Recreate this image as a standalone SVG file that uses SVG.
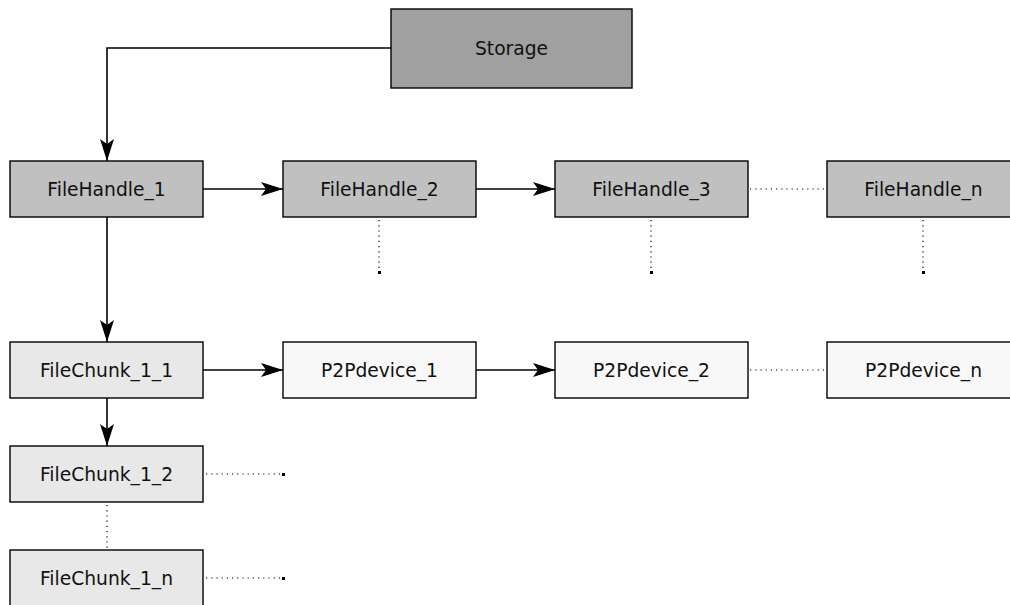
<svg xmlns="http://www.w3.org/2000/svg" width="1010" height="605" viewBox="0 0 1010 605">
<style>
.box{stroke:#000;stroke-width:1.4}
.s{fill:#a0a0a0}
.h{fill:#c0c0c0}
.c{fill:#e8e8e8}
.p{fill:#f8f8f8}
text{font-family:"DejaVu Sans",sans-serif;font-size:18.7px;fill:#111;text-anchor:middle;dominant-baseline:central}
.ln{fill:none;stroke:#000;stroke-width:1.6}
.dt{fill:none;stroke:#000;stroke-width:1.2;stroke-dasharray:1.2 4}
.end{fill:#000}
</style>
<defs>
<marker id="arr" viewBox="0 0 22 14" refX="22" refY="7" markerWidth="22" markerHeight="14" markerUnits="userSpaceOnUse" orient="auto">
<path d="M0,0 L22,7 L0,14 L5,7 Z" fill="#000"/>
</marker>
</defs>
<rect width="1010" height="605" fill="#fff"/>
<g id="connectors">
<path class="ln" d="M391,48 H107 V161" marker-end="url(#arr)"/>
<path class="ln" d="M203,189 H283" marker-end="url(#arr)"/>
<path class="ln" d="M476,189 H555" marker-end="url(#arr)"/>
<path class="dt" d="M750,189 H827"/>
<path class="dt" d="M379,220 V272"/>
<rect class="end" x="378" y="271" width="3" height="3"/>
<path class="dt" d="M651,220 V272"/>
<rect class="end" x="650" y="271" width="3" height="3"/>
<path class="dt" d="M923,220 V272"/>
<rect class="end" x="922" y="271" width="3" height="3"/>
<path class="ln" d="M107,217 V342" marker-end="url(#arr)"/>
<path class="ln" d="M203,370 H283" marker-end="url(#arr)"/>
<path class="ln" d="M476,370 H555" marker-end="url(#arr)"/>
<path class="dt" d="M750,370 H827"/>
<path class="ln" d="M107,398 V446" marker-end="url(#arr)"/>
<path class="dt" d="M206,474 H282"/>
<rect class="end" x="282" y="473" width="3" height="3"/>
<path class="dt" d="M107,505 V550"/>
<path class="dt" d="M206,578 H282"/>
<rect class="end" x="282" y="577" width="3" height="3"/>
</g>
<g id="storage"><rect class="box s" x="391" y="9" width="241" height="79"/><text x="511.5" y="48.5">Storage</text></g>
<g id="fh1"><rect class="box h" x="10" y="161" width="193" height="56"/><text x="106.5" y="189">FileHandle_1</text></g>
<g id="fh2"><rect class="box h" x="283" y="161" width="193" height="56"/><text x="379.5" y="189">FileHandle_2</text></g>
<g id="fh3"><rect class="box h" x="555" y="161" width="193" height="56"/><text x="651.5" y="189">FileHandle_3</text></g>
<g id="fhn"><rect class="box h" x="827" y="161" width="193" height="56"/><text x="923.5" y="189">FileHandle_n</text></g>
<g id="fc11"><rect class="box c" x="10" y="342" width="193" height="56"/><text x="106.5" y="370">FileChunk_1_1</text></g>
<g id="p1"><rect class="box p" x="283" y="342" width="193" height="56"/><text x="379.5" y="370">P2Pdevice_1</text></g>
<g id="p2"><rect class="box p" x="555" y="342" width="193" height="56"/><text x="651.5" y="370">P2Pdevice_2</text></g>
<g id="pn"><rect class="box p" x="827" y="342" width="193" height="56"/><text x="923.5" y="370">P2Pdevice_n</text></g>
<g id="fc12"><rect class="box c" x="10" y="446" width="193" height="56"/><text x="106.5" y="474">FileChunk_1_2</text></g>
<g id="fc1n"><rect class="box c" x="10" y="550" width="193" height="56"/><text x="106.5" y="578">FileChunk_1_n</text></g>
</svg>
